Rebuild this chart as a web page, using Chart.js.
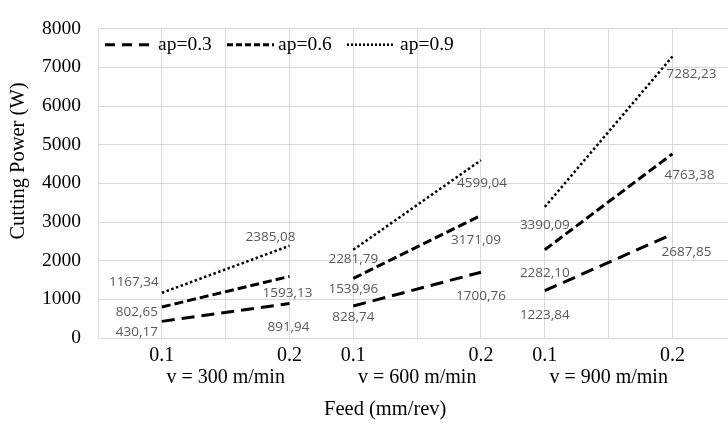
<!DOCTYPE html>
<html><head><meta charset="utf-8">
<script src="https://cdn.jsdelivr.net/npm/chart.js@4.4.1/dist/chart.umd.min.js"></script>
<style>html,body{margin:0;padding:0;background:#fff;}canvas{display:block;}</style>
</head><body>
<canvas id="c" width="728" height="428"></canvas>
<script>
// ---- data ----
const feeds = ['0.1', '0.2'];
const speeds = ['v = 300 m/min', 'v = 600 m/min', 'v = 900 m/min'];
const seriesNames = ['ap=0.3', 'ap=0.6', 'ap=0.9'];
const ap03 = [430.17, 891.94, 828.74, 1700.76, 1223.84, 2687.85];
const ap06 = [802.65, 1593.13, 1539.96, 3171.09, 2282.10, 4763.38];
const ap09 = [1167.34, 2385.08, 2281.79, 4599.04, 3390.09, 7282.23];
const yTicks = [0, 1000, 2000, 3000, 4000, 5000, 6000, 7000, 8000];
const xTitle = 'Feed (mm/rev)';
const yTitle = 'Cutting Power (W)';

// ---- layout helpers (styling) ----
const serif = '"Liberation Serif", "Times New Roman", serif';
function posOf(g, i) { return g * 3 + 1 + i * 2; }
const tickMap = {};
speeds.forEach((s, g) => feeds.forEach((f, i) => { tickMap[posOf(g, i)] = f; }));
function toPoints(vals) {
  const pts = [];
  speeds.forEach((s, g) => {
    feeds.forEach((f, i) => pts.push({ x: posOf(g, i), y: vals[g * 2 + i] }));
    if (g < speeds.length - 1) pts.push({ x: posOf(g, 1) + 0.5, y: null });
  });
  return pts;
}
// label offsets (dx, dy) per series per point, pixels
const labelOffsets = [
  [[-25, 11], [-1, 24], [0, 11], [0, 24], [0, 24], [14, 18]],
  [[-25, 5], [-2, 17], [0, 11], [-5, 25], [0, 23], [17, 21]],
  [[-28, -11], [-19, -9], [0, 9], [1, 23], [0, 18], [19, 18]]
];
const dashes = [[13, 7], [9, 4], [2.5, 2.5]];
const widths = [3, 3, 2.5];
const legendDash = [[10, 7], [6, 3], [2, 2]];
const allVals = [ap03, ap06, ap09];

const plugin = {
  id: 'extras',
  afterDatasetsDraw(chart) {
    const ctx = chart.ctx;
    const xs = chart.scales.x, ys = chart.scales.y;
    ctx.save();
    // data labels
    ctx.font = '13.5px "Open Sans", "DejaVu Sans", sans-serif';
    ctx.fillStyle = '#595959';
    ctx.textAlign = 'center';
    ctx.textBaseline = 'middle';
    allVals.forEach((vals, s) => {
      vals.forEach((v, k) => {
        const g = Math.floor(k / 2), i = k % 2;
        const px = xs.getPixelForValue(posOf(g, i));
        const py = ys.getPixelForValue(v);
        const o = labelOffsets[s][k];
        ctx.fillText(v.toFixed(2).replace('.', ','), px + o[0], py + o[1]);
      });
    });
    // legend
    const ly = chart.chartArea.top + 16;
    const items = [[105, 153, 158], [227, 274, 278], [347, 395, 400]];
    items.forEach((it, s) => {
      ctx.beginPath();
      ctx.setLineDash(legendDash[s]);
      ctx.lineWidth = widths[s];
      ctx.strokeStyle = '#000';
      ctx.moveTo(it[0], ly); ctx.lineTo(it[1], ly);
      ctx.stroke();
      ctx.setLineDash([]);
      ctx.fillStyle = '#000';
      ctx.font = '19.5px ' + serif;
      ctx.textAlign = 'left';
      ctx.fillText(seriesNames[s], it[2], ly);
    });
    // group labels
    ctx.fillStyle = '#000';
    ctx.textAlign = 'center';
    ctx.font = '20px ' + serif;
    const bottom = chart.chartArea.bottom;
    speeds.forEach((s, g) => {
      ctx.fillText(s, xs.getPixelForValue(posOf(g, 0) + 1), bottom + 40);
    });
    // axis titles
    ctx.font = '20.5px ' + serif;
    ctx.fillText(xTitle, xs.getPixelForValue(4.5), bottom + 72);
    ctx.save();
    ctx.translate(19, 161);
    ctx.rotate(-Math.PI / 2);
    ctx.fillText(yTitle, 0, 0);
    ctx.restore();
    ctx.restore();
  }
};

new Chart(document.getElementById('c'), {
  type: 'line',
  data: {
    datasets: allVals.map((vals, s) => ({
      label: seriesNames[s],
      data: toPoints(vals),
      borderColor: '#000',
      backgroundColor: '#000',
      borderWidth: widths[s],
      borderDash: dashes[s],
      borderCapStyle: 'butt',
      pointRadius: 0,
      spanGaps: false,
      tension: 0
    }))
  },
  options: {
    responsive: false,
    animation: false,
    devicePixelRatio: 1,
    layout: { padding: { top: 16, right: 0, left: 0, bottom: 0 } },
    plugins: { legend: { display: false }, tooltip: { enabled: false } },
    scales: {
      x: {
        type: 'linear', min: 0, max: 9.87,
        afterBuildTicks(scale) {
          const t = [];
          for (let v = 0; v <= 9; v++) t.push({ value: v });
          scale.ticks = t;
        },
        afterFit(scale) { scale.height = 90; },
        ticks: {
          autoSkip: false, maxRotation: 0, padding: 6, color: '#000',
          font: { family: serif, size: 20 },
          callback: (v) => tickMap[v] || ''
        },
        grid: { color: '#d9d9d9', lineWidth: 1, drawTicks: false },
        border: { color: '#d9d9d9', width: 1 }
      },
      y: {
        min: 0, max: 8000,
        afterBuildTicks(scale) { scale.ticks = yTicks.map(v => ({ value: v })); },
        afterFit(scale) { scale.width = 98; },
        ticks: {
          padding: 17, color: '#000', font: { family: serif, size: 19.5 },
          callback: (v) => String(v)
        },
        grid: { color: '#d9d9d9', lineWidth: 1, drawTicks: false },
        border: { color: '#d9d9d9', width: 1 }
      }
    }
  },
  plugins: [plugin]
});
</script>
</body></html>
